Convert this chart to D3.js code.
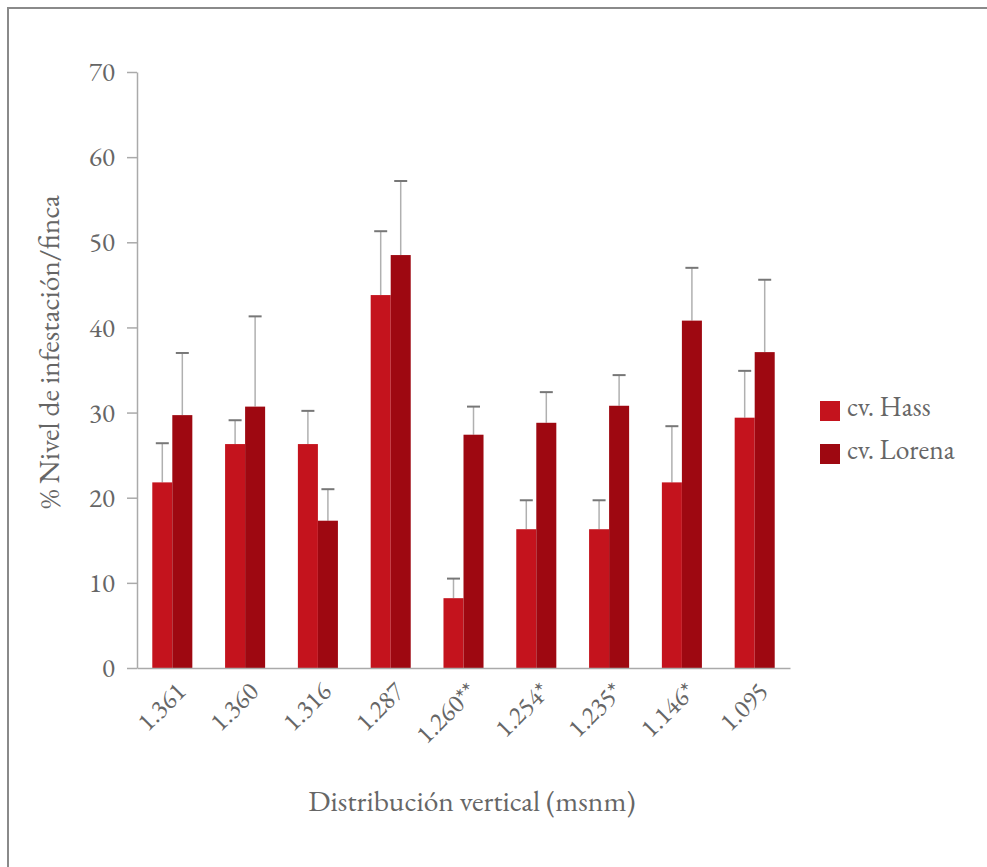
<!DOCTYPE html>
<html>
<head>
<meta charset="utf-8">
<script src="https://cdn.jsdelivr.net/npm/d3@7"></script>
<style>
	body { margin: 0; background: #fff; }
	svg { display: block; }
</style>
</head>
<body>
<div id="wrapper"></div>
<script>
const categories = ["1.361", "1.360", "1.316", "1.287", "1.260**", "1.254*", "1.235*", "1.146*", "1.095"];
const seriesNames = ["cv. Hass", "cv. Lorena"];
const hassValues = [21.8, 26.3, 26.3, 43.8, 8.2, 16.3, 16.3, 21.8, 29.4];
const hassUpper = [26.4, 29.1, 30.2, 51.3, 10.5, 19.7, 19.7, 28.4, 34.9];
const lorenaValues = [29.7, 30.7, 17.3, 48.5, 27.4, 28.8, 30.8, 40.8, 37.1];
const lorenaUpper = [37.0, 41.3, 21.0, 57.2, 30.7, 32.4, 34.4, 47.0, 45.6];
const yTicks = [0, 10, 20, 30, 40, 50, 60, 70];
const colors = ["#c4131d", "#9e0811"];

const FONT = '"EB Garamond", "Liberation Serif", serif';
const TEXT_COLOR = "#666";

const width = 987;
const height = 867;
const margins = { top: 72, left: 137, right: 197, bottom: 199 };
const boundedWidth = width - margins.left - margins.right;
const boundedHeight = height - margins.top - margins.bottom;

const svg = d3
	.select("#wrapper")
	.append("svg")
	.attr("width", width)
	.attr("height", height);

// outer frame
svg
	.append("rect")
	.attr("x", 8)
	.attr("y", 8)
	.attr("width", width + 10)
	.attr("height", height + 10)
	.attr("fill", "none")
	.attr("stroke", "#8a8a8a")
	.attr("stroke-width", 2);

const bounds = svg
	.append("g")
	.attr("transform", `translate(${margins.left}, ${margins.top})`);

const xScale = d3
	.scaleBand()
	.domain(categories)
	.range([0, boundedWidth])
	.paddingInner(0.45)
	.paddingOuter(0.21);

const subScale = d3
	.scaleBand()
	.domain(seriesNames)
	.range([0, xScale.bandwidth()]);

const yScale = d3.scaleLinear().domain([0, 70]).range([boundedHeight, 0]);

const rows = categories.map((c, i) => ({
	category: c,
	series: [
		{ name: seriesNames[0], value: hassValues[i], upper: hassUpper[i] },
		{ name: seriesNames[1], value: lorenaValues[i], upper: lorenaUpper[i] },
	],
}));

// y axis
const yAxis = bounds
	.append("g")
	.call(d3.axisLeft(yScale).tickValues(yTicks).tickSize(10).tickPadding(12).tickSizeOuter(0));
yAxis.select(".domain").attr("stroke", "#aaa").attr("stroke-width", 1.5);
yAxis.selectAll(".tick line").attr("stroke", "#aaa").attr("stroke-width", 1.5);
yAxis
	.selectAll(".tick text")
	.style("font-size", "27px")
	.style("font-family", FONT)
	.attr("fill", TEXT_COLOR);

// groups
const groups = bounds
	.selectAll(".group")
	.data(rows)
	.enter()
	.append("g")
	.attr("class", "group")
	.attr("transform", (d) => `translate(${xScale(d.category)}, 0)`);

// error bars first (under bars)
groups
	.selectAll(".err")
	.data((d) => d.series)
	.enter()
	.append("line")
	.attr("x1", (d) => subScale(d.name) + subScale.bandwidth() / 2)
	.attr("x2", (d) => subScale(d.name) + subScale.bandwidth() / 2)
	.attr("y1", (d) => yScale(d.value))
	.attr("y2", (d) => yScale(d.upper))
	.attr("stroke", "#b0b0b0")
	.attr("stroke-width", 1.5);

groups
	.selectAll(".cap")
	.data((d) => d.series)
	.enter()
	.append("line")
	.attr("x1", (d) => subScale(d.name) + subScale.bandwidth() / 2 - 6.5)
	.attr("x2", (d) => subScale(d.name) + subScale.bandwidth() / 2 + 6.5)
	.attr("y1", (d) => yScale(d.upper))
	.attr("y2", (d) => yScale(d.upper))
	.attr("stroke", "#777")
	.attr("stroke-width", 2);

groups
	.selectAll(".bar")
	.data((d) => d.series)
	.enter()
	.append("rect")
	.attr("class", "bar")
	.attr("x", (d) => subScale(d.name))
	.attr("width", subScale.bandwidth())
	.attr("y", (d) => yScale(d.value))
	.attr("height", (d) => boundedHeight - yScale(d.value))
	.attr("fill", (d, i) => colors[i]);

// x axis
const xAxis = bounds
	.append("g")
	.attr("transform", `translate(0, ${boundedHeight})`)
	.call(d3.axisBottom(xScale).tickSize(0).tickSizeOuter(0));
xAxis.select(".domain").attr("stroke", "#aaa").attr("stroke-width", 1.5);
xAxis
	.selectAll(".tick text")
	.style("font-size", "26px")
	.style("font-family", FONT)
	.attr("fill", TEXT_COLOR)
	.attr("text-anchor", "end")
	.attr("dy", "0")
	.attr("y", 0)
	.attr("transform", "translate(15, 25) rotate(-45)");

// axis titles
svg
	.append("text")
	.attr("transform", `translate(59, 352) rotate(-90)`)
	.attr("text-anchor", "middle")
	.style("font-family", FONT)
	.style("font-size", "29.5px")
	.attr("fill", TEXT_COLOR)
	.text("% Nivel de infestación/finca");

svg
	.append("text")
	.attr("x", 472)
	.attr("y", 811)
	.attr("text-anchor", "middle")
	.style("font-family", FONT)
	.style("font-size", "29.5px")
	.attr("fill", TEXT_COLOR)
	.text("Distribución vertical (msnm)");

// legend
const legend = svg
	.selectAll(".legend")
	.data(seriesNames)
	.enter()
	.append("g")
	.attr("transform", (d, i) => `translate(820, ${401 + i * 43})`);
legend
	.append("rect")
	.attr("width", 20)
	.attr("height", 20)
	.attr("fill", (d, i) => colors[i]);
legend
	.append("text")
	.attr("x", 27)
	.attr("y", 15)
	.style("font-family", FONT)
	.style("font-size", "27.5px")
	.attr("fill", TEXT_COLOR)
	.text((d) => d);
</script>
</body>
</html>
